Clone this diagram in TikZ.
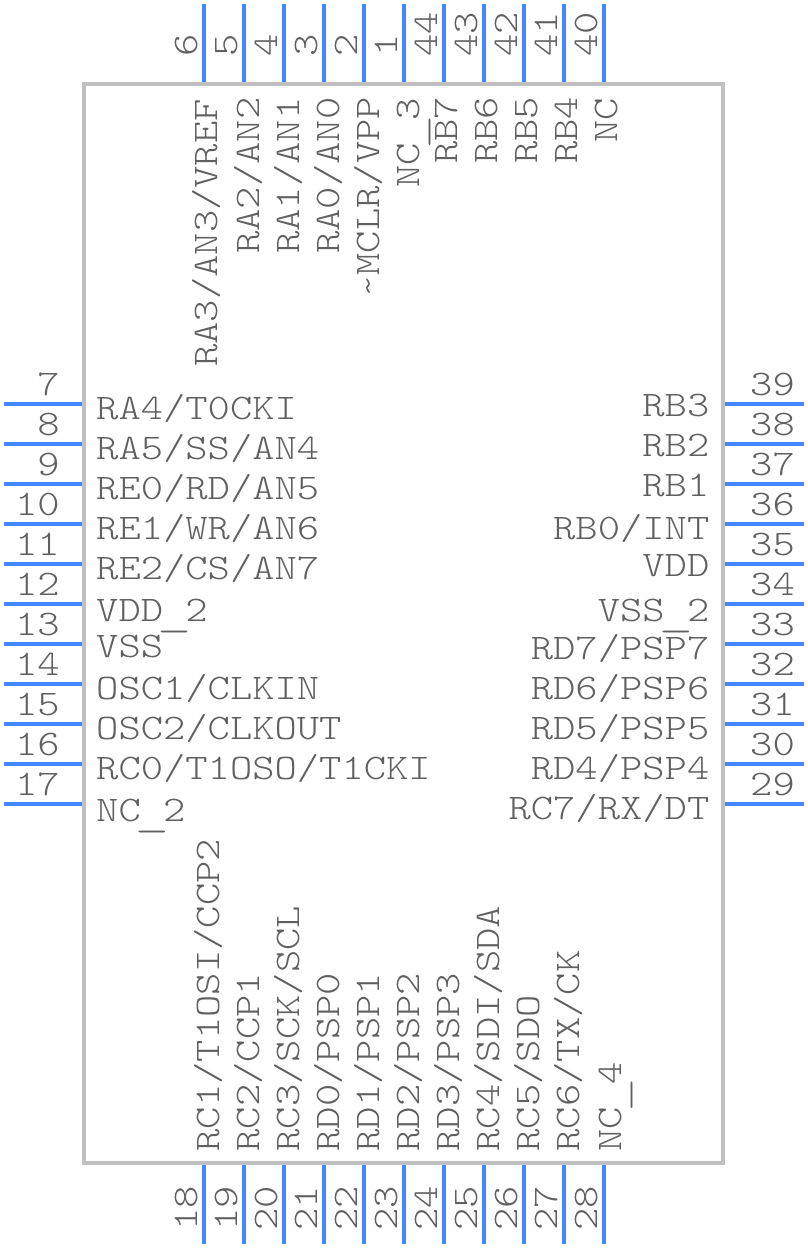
\documentclass[tikz,border=0pt]{standalone}
\usepackage{fontspec}
\usepackage{graphicx}
\setmonofont[FakeStretch=1.18]{Latin Modern Mono Light}
\definecolor{pincol}{HTML}{4488FF}
\definecolor{bodycol}{HTML}{C0C0C0}
\definecolor{txtcol}{HTML}{606060}
\newcommand{\usc}{\raisebox{-5pt}{\makebox[22.3pt][c]{\scalebox{1.55}[1]{\_}}}}
\tikzset{
  pinline/.style={draw=pincol,line width=4pt},
  bodybox/.style={draw=bodycol,line width=4pt,inner sep=0pt,minimum width=639pt,minimum height=1079pt},
  txt/.style={text=txtcol,inner sep=0pt,font=\fontsize{36pt}{36pt}\selectfont\ttfamily},
  lw/.style={txt,anchor=base west},
  le/.style={txt,anchor=base east},
  vw/.style={txt,anchor=base west,rotate=90}
}
\begin{document}
\begin{tikzpicture}[x=1pt,y=-1pt]
\useasboundingbox (0,0) rectangle (808,1248);
\node[bodybox] (body) at (403.5,623.5) {};
% top pins: name / x
\foreach \n/\x in {6/204,5/244,4/284,3/324,2/364,1/404,44/444,43/484,42/524,41/564,40/604}{
  \coordinate (p\n) at (\x,4);
  \draw[pinline] (p\n) -- (p\n |- body.north);
  \node[vw] (n\n) at (\x-7,57) {\n};
}
% bottom pins
\foreach \n/\x in {18/204,19/244,20/284,21/324,22/364,23/404,24/444,25/484,26/524,27/564,28/604}{
  \coordinate (p\n) at (\x,1244);
  \draw[pinline] (p\n) -- (p\n |- body.south);
  \node[vw] (n\n) at (\x-7,1231) {\n};
}
% left pins
\foreach \n/\y in {7/404,8/444,9/484,10/524,11/564,12/604,13/644,14/684,15/724,16/764,17/804}{
  \coordinate (p\n) at (4,\y);
  \draw[pinline] (p\n) -- (p\n -| body.west);
  \node[le] (n\n) at (60,\y-9) {\n};
}
% right pins
\foreach \n/\y in {39/404,38/444,37/484,36/524,35/564,34/604,33/644,32/684,31/724,30/764,29/804}{
  \coordinate (p\n) at (804,\y);
  \draw[pinline] (p\n) -- (p\n -| body.east);
  \node[lw] (n\n) at (750,\y-9) {\n};
}
% top labels
\node[vw] (t6) at (217,367) {RA3/AN3/VREF};
\node[vw] (t5) at (259,254) {RA2/AN2};
\node[vw] (t4) at (299,254) {RA1/AN1};
\node[vw] (t3) at (339,254) {RA0/AN0};
\node[vw] (t2) at (379,298) {\string~MCLR/VPP};
\node[vw] (t1) at (419,188) {NC\usc3};
\node[vw] (t44) at (457,164) {RB7};
\node[vw] (t43) at (497,164) {RB6};
\node[vw] (t42) at (537,164) {RB5};
\node[vw] (t41) at (577,164) {RB4};
\node[vw] (t40) at (617,143) {NC};
% bottom labels
\node[vw] (b18) at (219,1151.5) {RC1/T1OSI/CCP2};
\node[vw] (b19) at (259,1151.5) {RC2/CCP1};
\node[vw] (b20) at (299,1151.5) {RC3/SCK/SCL};
\node[vw] (b21) at (339,1151.5) {RD0/PSP0};
\node[vw] (b22) at (379,1151.5) {RD1/PSP1};
\node[vw] (b23) at (419,1151.5) {RD2/PSP2};
\node[vw] (b24) at (459,1151.5) {RD3/PSP3};
\node[vw] (b25) at (499,1151.5) {RC4/SDI/SDA};
\node[vw] (b26) at (539,1151.5) {RC5/SDO};
\node[vw] (b27) at (579,1151.5) {RC6/TX/CK};
\node[vw] (b28) at (621,1151.5) {NC\usc4};
% left labels
\node[lw] (l7) at (96,419) {RA4/T0CKI};
\node[lw] (l8) at (96,459) {RA5/SS/AN4};
\node[lw] (l9) at (96,499) {RE0/RD/AN5};
\node[lw] (l10) at (96,539) {RE1/WR/AN6};
\node[lw] (l11) at (96,579) {RE2/CS/AN7};
\node[lw] (l12) at (96,621) {VDD\usc2};
\node[lw] (l13) at (96,657) {VSS};
\node[lw] (l14) at (96,699) {OSC1/CLKIN};
\node[lw] (l15) at (96,739) {OSC2/CLKOUT};
\node[lw] (l16) at (96,779) {RC0/T1OSO/T1CKI};
\node[lw] (l17) at (96,821) {NC\usc2};
% right labels
\node[le] (r39) at (709.5,416) {RB3};
\node[le] (r38) at (709.5,456) {RB2};
\node[le] (r37) at (709.5,496) {RB1};
\node[le] (r36) at (709.5,539) {RB0/INT};
\node[le] (r35) at (709.5,576) {VDD};
\node[le] (r34) at (709.5,621) {VSS\usc2};
\node[le] (r33) at (709.5,659) {RD7/PSP7};
\node[le] (r32) at (709.5,699) {RD6/PSP6};
\node[le] (r31) at (709.5,739) {RD5/PSP5};
\node[le] (r30) at (709.5,779) {RD4/PSP4};
\node[le] (r29) at (709.5,819) {RC7/RX/DT};
\end{tikzpicture}
\end{document}
